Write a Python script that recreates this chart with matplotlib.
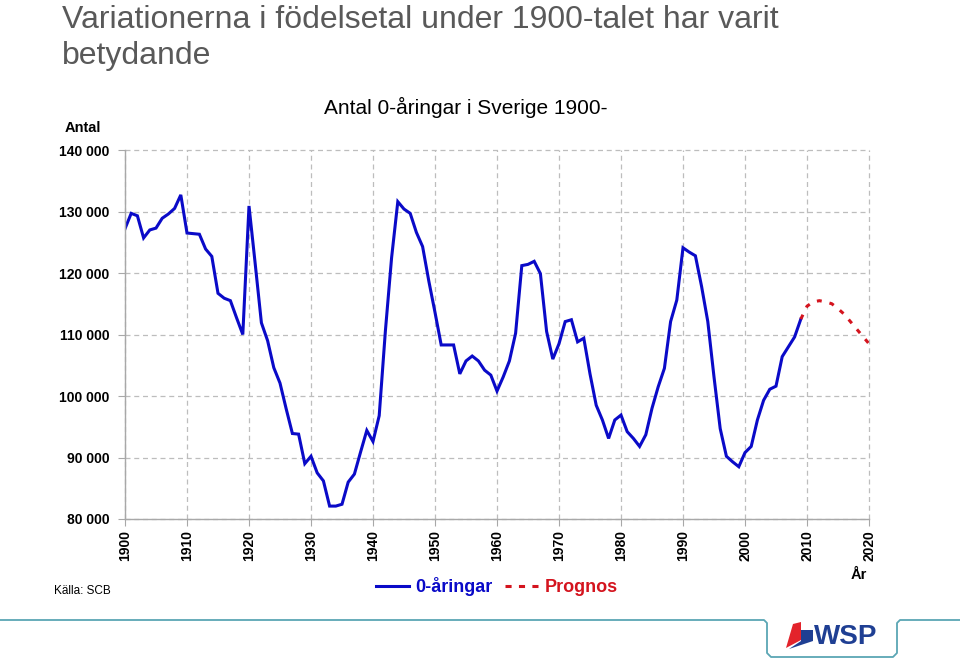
import matplotlib

matplotlib.use("Agg")
import matplotlib.pyplot as plt
from matplotlib.lines import Line2D
from matplotlib.patches import Polygon
from matplotlib.ticker import FuncFormatter

plt.rcParams["font.family"] = ["Liberation Sans", "DejaVu Sans"]

# Antal levande födda (0-åringar)
years = list(range(1900, 2010))
births = [
    127200, 129700, 129300, 125700, 127000, 127300, 128900, 129600, 130500, 132700,
    126500, 126400, 126300, 123900, 122700, 116700, 115900, 115500, 112700, 110000,
    130900, 121500, 111900, 109000, 104600, 102100, 97900, 93900, 93800, 89000,
    90200, 87500, 86200, 82100, 82100, 82400, 86000, 87300, 90900, 94400,
    92600, 96800, 110600, 122500, 131600, 130400, 129700, 126600, 124300, 118700,
    113600, 108300, 108300, 108300, 103600, 105700, 106500, 105700, 104200, 103400,
    100800, 103100, 105700, 110200, 121200, 121400, 121900, 119900, 110500, 106000,
    108500, 112100, 112400, 108800, 109400, 103600, 98500, 96100, 93100, 96100,
    96900, 94200, 93100, 91800, 93700, 98000, 101500, 104500, 112100, 115600,
    124100, 123400, 122800, 117800, 112100, 103100, 94700, 90200, 89300, 88500,
    90800, 91800, 96100, 99300, 101100, 101600, 106400, 108000, 109600, 112500,
]

prog_years = list(range(2009, 2021))
prog_births = [
    112500, 114600, 115300, 115500, 115300, 115000, 114200, 113300,
    112100, 110900, 109700, 108500,
]

x_ticks = list(range(1900, 2021, 10))
y_ticks = list(range(80000, 140001, 10000))

BLUE = "#0a0ac8"
RED = "#d4141e"
GRID = "#bdbdbd"
TEAL = "#5aa6b4"
W, H = 960, 659


def px(x, y):
    # figurkoordinater ur pixlar (origo uppe till vänster)
    return x / W, 1 - y / H


def thousands(v, _pos):
    return f"{int(v):,}".replace(",", " ")


def draw_chart(fig):
    l, b = px(125, 519)
    r, t = px(869, 150)
    ax = fig.add_axes([l, b, r - l, t - b])

    ax.plot(years, births, color=BLUE, lw=2.2, label="0-åringar", solid_joinstyle="miter")
    ax.plot(prog_years, prog_births, color=RED, lw=2.2, ls=(0, (1.6, 2.6)), label="Prognos")

    ax.set_xlim(1900, 2020)
    ax.set_ylim(80000, 140000)
    ax.set_xticks(x_ticks)
    ax.set_yticks(y_ticks)
    ax.yaxis.set_major_formatter(FuncFormatter(thousands))
    ax.grid(True, color=GRID, ls=(0, (4, 3)), lw=0.9)
    for g in ax.get_xgridlines() + ax.get_ygridlines():
        g.set_clip_on(False)

    for s in ("top", "right"):
        ax.spines[s].set_visible(False)
    for s in ("left", "bottom"):
        ax.spines[s].set_color("#a8a8a8")
        ax.spines[s].set_linewidth(1.0)

    ax.tick_params(axis="both", colors="#a8a8a8", length=5, width=0.8, labelcolor="black")
    ax.tick_params(axis="y", labelsize=10, pad=6)
    ax.tick_params(axis="x", labelsize=10, pad=3, labelrotation=90)
    for lab in ax.get_xticklabels() + ax.get_yticklabels():
        lab.set_fontweight("bold")

    handles = [
        Line2D([], [], color=BLUE, lw=2.2),
        Line2D([], [], color=RED, lw=2.2, ls=(0, (2.0, 2.4))),
    ]
    leg = fig.legend(
        handles, ["0-åringar", "Prognos"], loc="center", ncol=2, frameon=False,
        bbox_to_anchor=px(497, 587), prop={"weight": "bold", "size": 13},
        handlelength=1.85, handletextpad=0.35, columnspacing=0.7,
    )
    for txt, c in zip(leg.get_texts(), [BLUE, RED]):
        txt.set_color(c)
    return ax


def draw_texts(fig):
    fig.text(*px(62, 28), "Variationerna i födelsetal under 1900-talet har varit",
             fontsize=23, color="#595959", va="baseline")
    fig.text(*px(62, 64), "betydande", fontsize=23, color="#595959", va="baseline")
    fig.text(*px(466, 114), "Antal 0-åringar i Sverige 1900-", fontsize=15,
             ha="center", va="baseline")
    fig.text(*px(101, 132), "Antal", fontsize=10.5, weight="bold", ha="right", va="baseline")
    fig.text(*px(859, 579), "År", fontsize=10.5, weight="bold", ha="center", va="baseline")
    fig.text(*px(111, 594), "Källa: SCB", fontsize=8.5, ha="right", va="baseline")


def draw_footer(fig):
    deco = fig.add_axes([0, 0, 1, 1])
    deco.set_xlim(0, W)
    deco.set_ylim(H, 0)
    deco.axis("off")

    xs = [0, 764, 767, 767, 771, 893, 897, 897, 900, W]
    ys = [620, 620, 623, 653, 657, 657, 653, 623, 620, 620]
    deco.plot(xs, ys, color=TEAL, lw=1.3)

    # WSP-logga, förenklad
    deco.add_patch(Polygon([[793, 624], [801, 622], [801, 640], [786, 648]],
                           closed=True, color="#e3232b", lw=0))
    deco.add_patch(Polygon([[801, 630], [813, 630], [813, 641], [789, 649], [801, 641]],
                           closed=True, color="#1f3f93", lw=0))
    deco.text(814, 644, "WSP", fontsize=20, weight="bold", color="#1f3f93", va="baseline")


def main():
    fig = plt.figure(figsize=(9.6, 6.59), dpi=100)
    draw_chart(fig)
    draw_texts(fig)
    draw_footer(fig)
    fig.savefig("out.png", dpi=100)
    plt.close(fig)


if __name__ == "__main__":
    main()
